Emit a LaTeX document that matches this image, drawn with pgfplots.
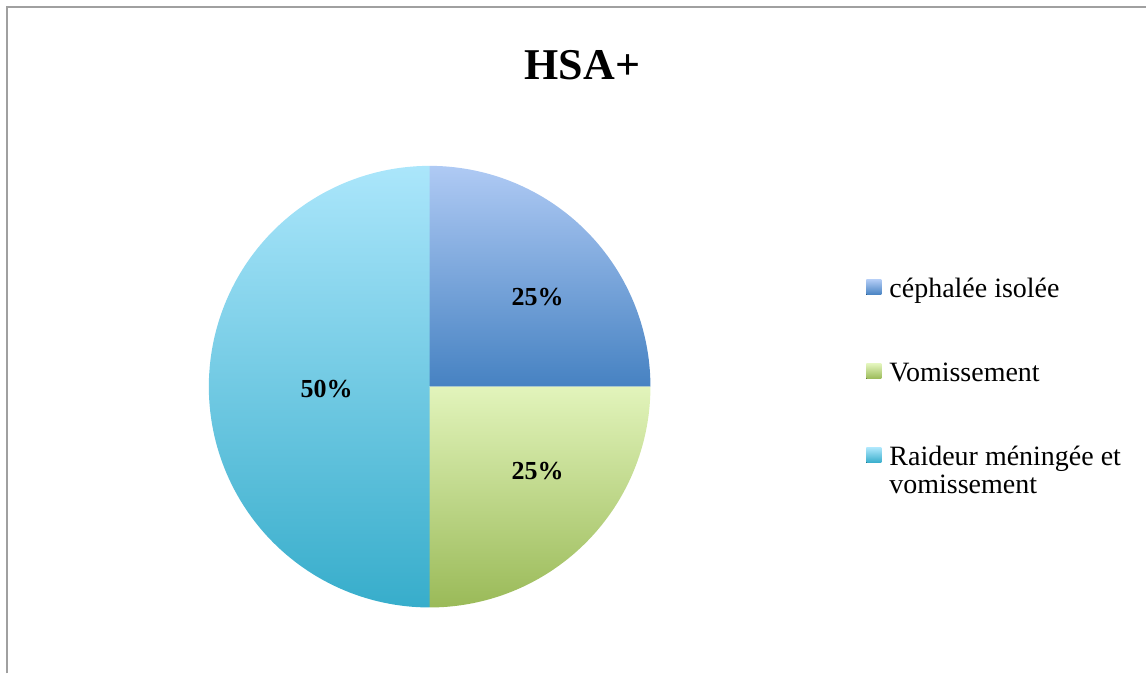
\documentclass[border=0pt]{standalone}
\usepackage{pgfplots}
\pgfplotsset{compat=1.18}
\usepackage{fontspec}
\setmainfont{Liberation Serif}

\definecolor{bluetop}{HTML}{AFCAF4}
\definecolor{bluebot}{HTML}{4682C2}
\definecolor{greentop}{HTML}{E2F4BB}
\definecolor{greenbot}{HTML}{9ABA58}
\definecolor{cyantop}{HTML}{ABE6FB}
\definecolor{cyanbot}{HTML}{37ADCB}
\definecolor{framegray}{HTML}{A0A0A0}

% shares (percent)
\def\valA{25}
\def\valB{25}
\def\valC{50}

\begin{document}
\begin{tikzpicture}
\def\cx{430}\def\cy{287}\def\rr{221}
\pgfmathsetmacro\angA{90}
\pgfmathsetmacro\angB{\angA-3.6*\valA}
\pgfmathsetmacro\angC{\angB-3.6*\valB}
\pgfmathsetmacro\angD{\angC-3.6*\valC}
\begin{axis}[
    scale only axis,
    width=1147pt, height=674pt,
    xmin=0, xmax=1147, ymin=0, ymax=674,
    hide axis, clip=false,
    legend style={
        at={(axis cs:867,398)}, anchor=north west,
        draw=none, fill=none, inner sep=0pt,
        font=\fontsize{28}{28}\selectfont,
        row sep=58.5pt, column sep=6pt,
        cells={anchor=base west, inner sep=0pt, text height=20pt, text depth=6pt},
    },
]
\addplot[draw=none, top color=bluetop, bottom color=bluebot,
    domain=\angB:\angA, samples=80, variable=\t,
    legend image code/.code={\fill[top color=bluetop, bottom color=bluebot] (0pt,3pt) rectangle (15pt,18pt);}]
    ({\cx+\rr*cos(\t)},{\cy+\rr*sin(\t)}) -- (axis cs:\cx,\cy) -- cycle;
\addlegendentry{céphalée isolée}
\addplot[draw=none, top color=greentop, bottom color=greenbot,
    domain=\angC:\angB, samples=80, variable=\t,
    legend image code/.code={\fill[top color=greentop, bottom color=greenbot] (0pt,3pt) rectangle (15pt,18pt);}]
    ({\cx+\rr*cos(\t)},{\cy+\rr*sin(\t)}) -- (axis cs:\cx,\cy) -- cycle;
\addlegendentry{Vomissement}
\addplot[draw=none, top color=cyantop, bottom color=cyanbot,
    domain=\angD:\angC, samples=120, variable=\t,
    legend image code/.code={\fill[top color=cyantop, bottom color=cyanbot] (0pt,3pt) rectangle (15pt,18pt);}]
    ({\cx+\rr*cos(\t)},{\cy+\rr*sin(\t)}) -- (axis cs:\cx,\cy) -- cycle;
\addlegendentry{\begin{tabular}[t]{@{}l@{}}Raideur méningée et\\vomissement\end{tabular}}

% percentage labels
\node[font=\fontsize{26}{28}\selectfont\bfseries] at (axis cs:538,377) {\valA\%};
\node[font=\fontsize{26}{28}\selectfont\bfseries] at (axis cs:538,203) {\valB\%};
\node[font=\fontsize{26}{28}\selectfont\bfseries] at (axis cs:327,285) {\valC\%};

% title
\node[font=\fontsize{44}{50}\selectfont\bfseries, anchor=base] at (axis cs:583,594) {HSA+};

% chart frame
\draw[framegray, line width=2pt] (axis cs:7,0) -- (axis cs:7,667) -- (axis cs:1147,667);
\path (axis cs:0,0) rectangle (axis cs:1147,674);
\end{axis}
\end{tikzpicture}
\end{document}
